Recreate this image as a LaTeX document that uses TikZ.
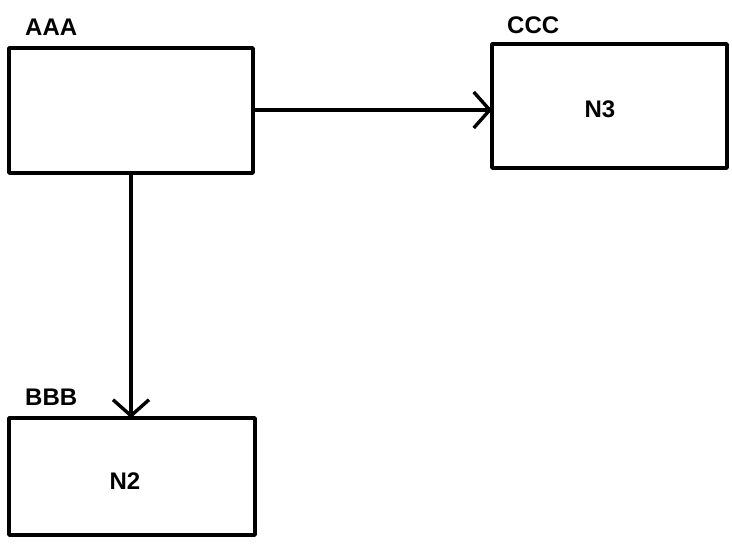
\documentclass[tikz,border=0pt]{standalone}
\usepackage{fontspec}
\setmainfont{Liberation Sans}
\usetikzlibrary{arrows.meta}
\begin{document}
\begin{tikzpicture}[x=1pt,y=-1pt,
  boxstyle/.style={draw=black,line width=3.6pt,line join=round},
  lbl/.style={font=\fontsize{24}{24}\selectfont\bfseries,inner sep=0pt,anchor=west},
  conn/.style={line width=3.4pt,-{Straight Barb[length=16pt,width=36pt,line width=3.4pt]}}]
\useasboundingbox (0,0) rectangle (732,544);
\draw[boxstyle] (9,48) rectangle (253,173);
\coordinate (aE) at (253,110);
\coordinate (aS) at (131,173);
\draw[boxstyle] (492,44) rectangle (727,168);
\coordinate (cW) at (492,110);
\draw[boxstyle] (9,418) rectangle (255,535);
\coordinate (bN) at (131,418);
\node[lbl] (la) at (25,27) {AAA};
\node[lbl] (lc) at (507,25) {CCC};
\node[lbl] (lb) at (25,397) {BBB};
\node[lbl,anchor=center] (n3) at (600,109) {N3};
\node[lbl,anchor=center] (n2) at (125,481) {N2};
\draw[conn] (aE) -- (cW);
\draw[conn] (aS) -- (bN);
\end{tikzpicture}
\end{document}
